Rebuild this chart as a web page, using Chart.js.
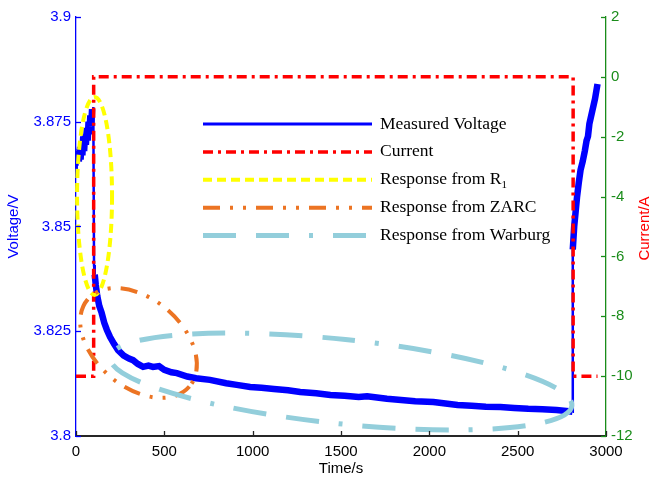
<!DOCTYPE html>
<html>
<head>
<meta charset="utf-8">
<script src="https://cdn.jsdelivr.net/npm/chart.js@4"></script>
<style>
  html, body { margin: 0; padding: 0; background: #fff; }
</style>
</head>
<body>
<canvas id="chart" width="654" height="478"></canvas>
<script>
// Measured voltage (time in s, voltage in V)
const voltTime = [0, 4, 8, 12, 16, 21, 26, 31, 36, 41, 46, 51, 56, 61, 66, 71, 76, 81, 86, 91, 95, 98,
  102, 106, 112, 120, 132, 145, 160, 175, 193, 215, 238, 270, 300, 323, 350, 380, 410, 436, 470, 500,
  540, 571, 630, 680, 758, 850, 910, 986, 1050, 1120, 1200, 1269, 1360, 1440, 1520, 1600, 1648, 1760,
  1840, 1920, 2023, 2080, 2160, 2240, 2320, 2402, 2480, 2560, 2640, 2720, 2790, 2810,
  2812, 2820, 2828, 2836, 2846, 2856, 2868, 2880, 2890, 2898, 2906, 2914, 2922, 2930, 2938, 2946, 2952];
const voltValue = [3.8625, 3.868, 3.8645, 3.869, 3.8655, 3.8685, 3.866, 3.870, 3.867, 3.8715, 3.868, 3.872, 3.8695, 3.8735, 3.8705, 3.875, 3.872, 3.8765, 3.874, 3.878, 3.8765, 3.8785,
  3.8408, 3.8385, 3.8360, 3.8335, 3.8310, 3.8294, 3.8270, 3.8253, 3.8236, 3.8220, 3.8205, 3.8192, 3.8185, 3.8181, 3.8172, 3.8165, 3.8168, 3.8165, 3.8167, 3.8158,
  3.8152, 3.8150, 3.8142, 3.8138, 3.8134, 3.8126, 3.8122, 3.8117, 3.8115, 3.8112, 3.8109, 3.8105, 3.8102, 3.8098, 3.8096, 3.8093, 3.8095, 3.8089,
  3.8086, 3.8083, 3.8081, 3.8078, 3.8074, 3.8072, 3.8070, 3.8069, 3.8067, 3.8065, 3.8064, 3.8062, 3.8059, 3.8058,
  3.8445, 3.8500, 3.8535, 3.8570, 3.8605, 3.8635, 3.8655, 3.8680, 3.8705, 3.8715, 3.8745, 3.8760, 3.8775, 3.8790, 3.8805, 3.8825, 3.8840];

// Current (A)
const currTime = [0, 100, 100, 2814, 2814, 2952];
const currValue = [-10, -10, 0, 0, -10, -10];

// Axis ticks
const timeTicks = [0, 500, 1000, 1500, 2000, 2500, 3000];
const voltTicks = [3.8, 3.825, 3.85, 3.875, 3.9];
const currTicks = [-12, -10, -8, -6, -4, -2, 0, 2];

// Annotation ellipses: centre (s, V), half axes (s, V), tilt (deg)
const ellipseNames = ['Response from R_1', 'Response from ZARC', 'Response from Warburg'];
const ellipseCx = [105, 354, 1500];
const ellipseCy = [3.8573, 3.8222, 3.8130];
const ellipseRx = [99, 379, 1314];
const ellipseRy = [0.02363, 0.0105, 0.01007];
const ellipseTilt = [0, 40.6, 6];

const ellipseStyles = [
  { color: '#FFFF00', width: 4, dash: [9, 5] },
  { color: '#EC7423', width: 4, dash: [17, 10, 3, 10, 3, 10] },
  { color: '#93CEDB', width: 5, dash: [33, 20, 33, 20, 4, 20] }
];

const BLUE = '#0000FF';
const RED = '#FF0000';
const GREEN = '#1a8c1a';
const AXIS = '#262626';
const SANS = '"Liberation Sans", Arial, sans-serif';
const SERIF = '"Liberation Serif", "Times New Roman", serif';

const ellipsePlugin = {
  id: 'ellipses',
  afterDatasetsDraw(chart) {
    const ctx = chart.ctx, xs = chart.scales.x, ys = chart.scales.y;
    ellipseNames.forEach((name, i) => {
      const cx = xs.getPixelForValue(ellipseCx[i]);
      const cy = ys.getPixelForValue(ellipseCy[i]);
      const rx = Math.abs(xs.getPixelForValue(ellipseCx[i] + ellipseRx[i]) - cx);
      const ry = Math.abs(ys.getPixelForValue(ellipseCy[i] + ellipseRy[i]) - cy);
      const st = ellipseStyles[i];
      ctx.save();
      ctx.strokeStyle = st.color;
      ctx.lineWidth = st.width;
      ctx.setLineDash(st.dash);
      ctx.beginPath();
      ctx.ellipse(cx, cy, rx, ry, ellipseTilt[i] * Math.PI / 180, 0, 2 * Math.PI);
      ctx.stroke();
      ctx.restore();
    });
  }
};

// inward tick marks + right axis title (reads bottom to top like the left one)
const axisPlugin = {
  id: 'axisExtras',
  afterDraw(chart) {
    const ctx = chart.ctx, a = chart.chartArea;
    const xs = chart.scales.x, ys = chart.scales.y, y2 = chart.scales.y2;
    ctx.save();
    ctx.lineWidth = 1.3;
    ctx.strokeStyle = AXIS;
    timeTicks.forEach(v => {
      const px = Math.round(xs.getPixelForValue(v)) + 0.5;
      ctx.beginPath(); ctx.moveTo(px, a.bottom); ctx.lineTo(px, a.bottom - 5); ctx.stroke();
    });
    ctx.strokeStyle = BLUE;
    voltTicks.forEach(v => {
      const py = Math.round(ys.getPixelForValue(v)) + 0.5;
      ctx.beginPath(); ctx.moveTo(a.left, py); ctx.lineTo(a.left + 5, py); ctx.stroke();
    });
    ctx.strokeStyle = GREEN;
    currTicks.forEach(v => {
      const py = Math.round(y2.getPixelForValue(v)) + 0.5;
      ctx.beginPath(); ctx.moveTo(a.right, py); ctx.lineTo(a.right - 5, py); ctx.stroke();
    });
    ctx.translate(645, (a.top + a.bottom) / 2 + 2);
    ctx.rotate(-Math.PI / 2);
    ctx.fillStyle = RED;
    ctx.font = '15px ' + SANS;
    ctx.textAlign = 'center';
    ctx.textBaseline = 'middle';
    ctx.fillText('Current/A', 0, 0);
    ctx.restore();
  }
};

// legend drawn inside the plot
const legendPlugin = {
  id: 'insideLegend',
  afterDraw(chart) {
    const ctx = chart.ctx;
    const items = chart.data.datasets.map(d => ({
      label: d.label, color: d.borderColor, width: d.legendWidth, dash: d.borderDash || []
    })).concat(ellipseNames.map((n, i) => ({
      label: n, color: ellipseStyles[i].color, width: ellipseStyles[i].width, dash: ellipseStyles[i].dash
    })));
    const x0 = 203, x1 = 372, tx = 380, y0 = 124, dy = 27.9;
    ctx.save();
    items.forEach((it, i) => {
      const y = y0 + i * dy;
      ctx.strokeStyle = it.color;
      ctx.lineWidth = it.width;
      ctx.setLineDash(it.dash);
      ctx.beginPath(); ctx.moveTo(x0, y); ctx.lineTo(x1, y); ctx.stroke();
      ctx.fillStyle = '#000';
      ctx.textBaseline = 'middle';
      ctx.font = '17.5px ' + SERIF;
      const parts = it.label.split('_');
      ctx.fillText(parts[0], tx, y);
      if (parts[1]) {
        const w = ctx.measureText(parts[0]).width;
        ctx.font = '11px ' + SERIF;
        ctx.fillText(parts[1], tx + w, y + 5);
      }
    });
    ctx.restore();
  }
};

const tickFont = { family: SANS, size: 15 };

new Chart(document.getElementById('chart').getContext('2d'), {
  type: 'line',
  data: {
    datasets: [{
      label: 'Measured Voltage',
      data: voltTime.map((t, i) => ({ x: t, y: voltValue[i] })),
      yAxisID: 'y',
      borderColor: BLUE,
      borderWidth: 6.5,
      legendWidth: 3,
      pointRadius: 0,
      tension: 0,
      order: 2,
      segment: {
        borderWidth: c => Math.abs(c.p1.parsed.x - c.p0.parsed.x) < 5 ? 2.5 : 6.5
      }
    }, {
      label: 'Current',
      data: currTime.map((t, i) => ({ x: t, y: currValue[i] })),
      yAxisID: 'y2',
      borderColor: RED,
      borderWidth: 3.5,
      legendWidth: 3.5,
      borderDash: [10, 5, 3, 5],
      pointRadius: 0,
      tension: 0,
      order: 1
    }]
  },
  options: {
    responsive: false,
    animation: false,
    events: [],
    layout: { padding: { top: 17, left: 0, right: 0, bottom: 0 } },
    plugins: { legend: { display: false }, tooltip: { enabled: false } },
    scales: {
      x: {
        type: 'linear', min: 0, max: 3000,
        afterBuildTicks: s => { s.ticks = timeTicks.map(v => ({ value: v })); },
        afterFit: s => { s.height = 42; },
        grid: { drawOnChartArea: false, drawTicks: false },
        border: { display: true, color: AXIS, width: 2 },
        ticks: { color: '#000', font: tickFont, padding: 7, maxRotation: 0, autoSkip: false, callback: v => String(v) },
        title: { display: true, text: 'Time/s', color: '#000', font: tickFont, padding: { top: 0, bottom: 0 } }
      },
      y: {
        type: 'linear', position: 'left', min: 3.8, max: 3.9,
        afterBuildTicks: s => { s.ticks = voltTicks.map(v => ({ value: v })); },
        afterFit: s => { s.width = 76; },
        grid: { drawOnChartArea: false, drawTicks: false },
        border: { display: true, color: BLUE, width: 1.3 },
        ticks: { color: BLUE, font: tickFont, padding: 5, autoSkip: false, callback: v => String(+v.toFixed(3)) },
        title: { display: true, text: 'Voltage/V', color: BLUE, font: tickFont, padding: { top: 4.5, bottom: 0 } }
      },
      y2: {
        type: 'linear', position: 'right', min: -12, max: 2,
        afterBuildTicks: s => { s.ticks = currTicks.map(v => ({ value: v })); },
        afterFit: s => { s.width = 48; },
        grid: { drawOnChartArea: false, drawTicks: false },
        border: { display: true, color: GREEN, width: 1.3 },
        ticks: { color: GREEN, font: tickFont, padding: 5, autoSkip: false, callback: v => String(v) }
      }
    }
  },
  plugins: [ellipsePlugin, axisPlugin, legendPlugin]
});
</script>
</body>
</html>
